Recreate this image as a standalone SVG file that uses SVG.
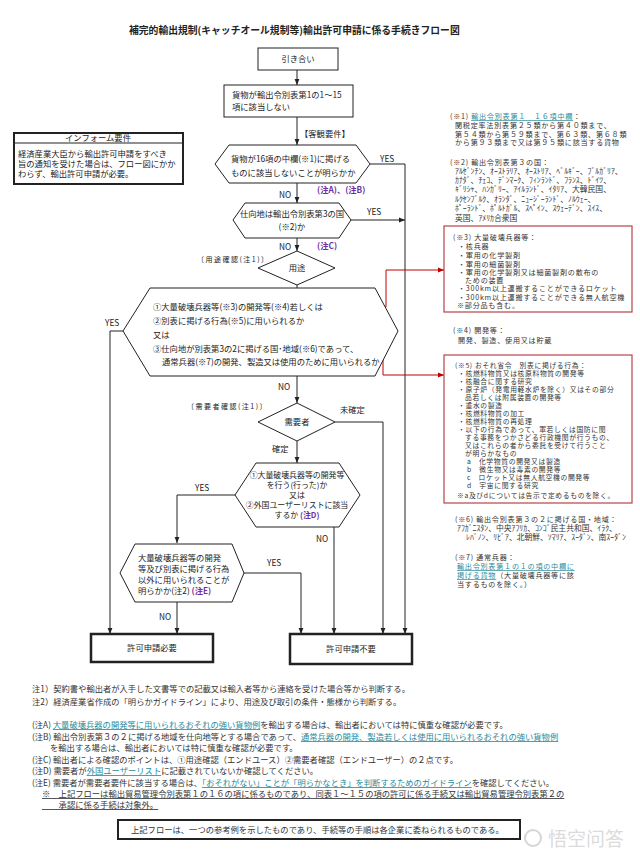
<svg xmlns="http://www.w3.org/2000/svg" width="640" height="853" viewBox="0 0 640 853">
<style>
text { font-family: "Noto Sans CJK JP", "Noto Sans", sans-serif; fill: #222; }
.ti { font-size: 9.8px; font-weight: bold; }
.f { font-size: 8.3px; }
.g { font-size: 7.9px; }
.s { font-size: 7px; letter-spacing: 1.5px; }
.n { font-size: 7.1px; letter-spacing: 0.75px; fill: #333; }
.k { font-size: 7.8px; fill: #333; }
.v { font-size: 6.8px; letter-spacing: 0.65px; fill: #333; }
.m { font-size: 8.3px; fill: #333; }
.pur { fill: #7030a0; font-weight: bold; }
.lk { fill: #2b8a99; text-decoration: underline; }
.ul { text-decoration: underline; }
.c { text-anchor: middle; }
.shape { fill: #fff; stroke: #222; stroke-width: 1; }
.ln { fill: none; stroke: #222; stroke-width: 1; }
.red { fill: none; stroke: #c00000; stroke-width: 1; }
.rbox { fill: #fff; stroke: #b8434a; stroke-width: 1.2; }
.term { fill: #fff; stroke: #222; stroke-width: 2.5; }
</style>
<defs>
<marker id="ah" viewBox="0 0 10 10" refX="10" refY="5" markerWidth="6" markerHeight="6" orient="auto" markerUnits="userSpaceOnUse"><path d="M0,1 L10,5 L0,9 z" fill="#222"/></marker>
<marker id="ahr" viewBox="0 0 10 10" refX="10" refY="5" markerWidth="6" markerHeight="6" orient="auto" markerUnits="userSpaceOnUse"><path d="M0,1 L10,5 L0,9 z" fill="#c00000"/></marker>
</defs>
<rect width="640" height="853" fill="#fff"/>

<text class="ti" x="129" y="34">補完的輸出規制(キャッチオール規制等)輸出許可申請に係る手続きフロー図</text>

<g id="connectors">
  <path class="ln" d="M297,70 V85" marker-end="url(#ah)"/>
  <path class="ln" d="M297,117 V145" marker-end="url(#ah)"/>
  <path class="ln" d="M297,183 V203" marker-end="url(#ah)"/>
  <path class="ln" d="M370,164 H405 V634" marker-end="url(#ah)"/>
  <path class="ln" d="M351,220 H405" marker-end="url(#ah)"/>
  <path class="ln" d="M297,238 V251" marker-end="url(#ah)"/>
  <path class="ln" d="M297,285 V289"/>
  <path class="ln" d="M123,331 H110 V634" marker-end="url(#ah)"/>
  <path class="ln" d="M297,376 V403" marker-end="url(#ah)"/>
  <path class="ln" d="M335,422 H383 V634" marker-end="url(#ah)"/>
  <path class="ln" d="M297,441 V463" marker-end="url(#ah)"/>
  <path class="ln" d="M235,495 H177 V543" marker-end="url(#ah)"/>
  <path class="ln" d="M334,527 V634" marker-end="url(#ah)"/>
  <path class="ln" d="M244,573 H301 V634" marker-end="url(#ah)"/>
  <path class="ln" d="M177,602 V634" marker-end="url(#ah)"/>
  <path class="red" d="M330,307 H386 V270 H444" marker-end="url(#ahr)"/>
  <path class="red" d="M308,321 H383 V375 H444" marker-end="url(#ahr)"/>
  <text class="f" x="300" y="137">【客観要件】</text>
  <text class="f" x="380" y="162">YES</text>
  <text class="f" x="279" y="198">NO</text>
  <text class="f pur" x="317" y="193">(注A)、(注B)</text>
  <text class="f" x="367" y="215">YES</text>
  <text class="f" x="279" y="250">NO</text>
  <text class="f pur" x="317" y="249">(注C)</text>
  <text class="s" x="197" y="262">〔用途確認(注1)〕</text>
  <text class="f" x="105" y="326">YES</text>
  <text class="f" x="278" y="390">NO</text>
  <text class="s" x="187" y="409">〔需要者確認(注1)〕</text>
  <text class="f" x="340" y="413">未確定</text>
  <text class="f" x="272" y="452">確定</text>
  <text class="f" x="195" y="491">YES</text>
  <text class="f" x="316" y="542">NO</text>
  <text class="f" x="267" y="566">YES</text>
  <text class="f" x="159" y="620">NO</text>
</g>

<g id="start">
  <rect class="shape" x="258" y="48" width="80" height="22"/>
  <text class="f c" x="298" y="62">引き合い</text>
</g>

<g id="q0">
  <rect class="shape" x="224" y="85" width="129" height="32"/>
  <text class="f" x="232" y="98">貨物が輸出令別表第1の1～15</text>
  <text class="f" x="232" y="110">項に該当しない</text>
</g>

<g id="q1">
  <polygon class="shape" points="215,164 229,145 356,145 370,164 356,183 229,183"/>
  <text class="f" x="231" y="162">貨物が16項の中欄(※1)に掲げる</text>
  <text class="f" x="231" y="176">ものに該当しないことが明らかか</text>
</g>

<g id="q2">
  <polygon class="shape" points="233,220 245,203 339,203 351,220 339,238 245,238"/>
  <text class="f c" x="292" y="217">仕向地は輸出令別表第3の国</text>
  <text class="f c" x="292" y="230">(※2)か</text>
</g>

<g id="d1">
  <polygon class="shape" points="297,251 335,268 297,285 258,268"/>
  <text class="f c" x="297" y="271">用途</text>
</g>

<g id="q3">
  <polygon class="shape" points="123,331 150,288 375,288 398,331 375,376 150,376"/>
  <text class="f" x="153" y="310">①大量破壊兵器等(※3)の開発等(※4)若しくは</text>
  <text class="f" x="153" y="324">②別表に掲げる行為(※5)に用いられるか</text>
  <text class="f" x="153" y="338">又は</text>
  <text class="f" x="153" y="352">③仕向地が別表第3の2に掲げる国･地域(※6)であって、</text>
  <text class="f" x="162" y="365">通常兵器(※7)の開発、製造又は使用のために用いられるか</text>
</g>

<g id="d2">
  <polygon class="shape" points="297,403 335,422 297,441 258,422"/>
  <text class="f c" x="297" y="425">需要者</text>
</g>

<g id="q4">
  <polygon class="shape" points="235,495 256,463 339,463 360,495 339,527 256,527"/>
  <text class="g c" x="297" y="478">①大量破壊兵器等の開発等</text>
  <text class="g c" x="297" y="488">を行う(行った)か</text>
  <text class="g c" x="297" y="498">又は</text>
  <text class="g c" x="297" y="508">②外国ユーザーリストに該当</text>
  <text class="g c" x="297" y="518">するか <tspan class="pur">(注D)</tspan></text>
</g>

<g id="q5">
  <polygon class="shape" points="120,573 135,544 232,544 244,573 232,602 135,602"/>
  <text class="f" x="138" y="561">大量破壊兵器等の開発</text>
  <text class="f" x="138" y="572">等及び別表に掲げる行為</text>
  <text class="f" x="138" y="583">以外に用いられることが</text>
  <text class="f" x="138" y="594">明らかか(注2) <tspan class="pur">(注E)</tspan></text>
</g>

<g id="need">
  <rect class="term" x="91" y="634" width="122" height="28"/>
  <text class="f c" x="152" y="651">許可申請必要</text>
</g>

<g id="noneed">
  <rect class="term" x="290" y="634" width="122" height="30"/>
  <text class="f c" x="351" y="652">許可申請不要</text>
</g>

<g id="inform">
  <rect x="14" y="133" width="169" height="51" fill="#fff" stroke="#222" stroke-width="2"/>
  <line x1="14" y1="143" x2="183" y2="143" stroke="#222" stroke-width="1"/>
  <text class="f c" x="98" y="141">インフォーム要件</text>
  <text class="f" x="18" y="157" font-size="8.9">経済産業大臣から輸出許可申請をすべき</text>
  <text class="f" x="18" y="167" font-size="8.9">旨の通知を受けた場合は、フロー図にかか</text>
  <text class="f" x="18" y="177" font-size="8.9">わらず、輸出許可申請が必要。</text>
</g>

<g id="note1">
  <text class="n" x="450" y="119">(※1) <tspan class="lk">輸出令別表第１　１６項中欄</tspan>：</text>
  <text class="n" x="455" y="128">関税定率法別表第２５類から第４０類まで、</text>
  <text class="n" x="455" y="136.5">第５４類から第５９類まで、第６３類、第６８類</text>
  <text class="n" x="455" y="145">から第９３類まで又は第９５類に該当する貨物</text>
</g>

<g id="note2">
  <text class="n" x="450" y="165">(※2) 輸出令別表第３の国：</text>
  <text class="k" x="455" y="174">ｱﾙｾﾞﾝﾁﾝ、ｵｰｽﾄﾗﾘｱ、ｵｰｽﾄﾘｱ、ﾍﾞﾙｷﾞｰ、ﾌﾞﾙｶﾞﾘｱ、</text>
  <text class="k" x="455" y="183">ｶﾅﾀﾞ、ﾁｪｺ、ﾃﾞﾝﾏｰｸ、ﾌｨﾝﾗﾝﾄﾞ、ﾌﾗﾝｽ、ﾄﾞｲﾂ、</text>
  <text class="k" x="455" y="192">ｷﾞﾘｼｬ、ﾊﾝｶﾞﾘｰ、ｱｲﾙﾗﾝﾄﾞ、ｲﾀﾘｱ、大韓民国、</text>
  <text class="k" x="455" y="202">ﾙｸｾﾝﾌﾞﾙｸ、ｵﾗﾝﾀﾞ、ﾆｭｰｼﾞｰﾗﾝﾄﾞ、ﾉﾙｳｪｰ、</text>
  <text class="k" x="455" y="211">ﾎﾟｰﾗﾝﾄﾞ、ﾎﾟﾙﾄｶﾞﾙ、ｽﾍﾟｲﾝ、ｽｳｪｰﾃﾞﾝ、ｽｲｽ、</text>
  <text class="k" x="455" y="221">英国、ｱﾒﾘｶ合衆国</text>
</g>

<g id="note3">
  <rect class="rbox" x="444" y="226" width="188" height="86"/>
  <text class="n" x="453" y="240">(※3) 大量破壊兵器等：</text>
  <text class="n" x="458" y="249">・核兵器</text>
  <text class="n" x="458" y="258">・軍用の化学製剤</text>
  <text class="n" x="458" y="267">・軍用の細菌製剤</text>
  <text class="n" x="458" y="275">・軍用の化学製剤又は細菌製剤の散布の</text>
  <text class="n" x="465" y="283">ための装置</text>
  <text class="n" x="458" y="291">・300km以上運搬することができるロケット</text>
  <text class="n" x="458" y="300">・300km以上運搬することができる無人航空機</text>
  <text class="n" x="457" y="308">※部分品も含む。</text>
</g>

<g id="note4">
  <text class="n" x="453" y="333">(※4) 開発等：</text>
  <text class="n" x="458" y="343">開発、製造、使用又は貯蔵</text>
</g>

<g id="note5">
  <rect class="rbox" x="444" y="355" width="188" height="148"/>
  <text class="v" x="455" y="368">(※5) おそれ省令　別表に掲げる行為：</text>
  <text class="v" x="458" y="376">・核燃料物質又は核原料物質の開発等</text>
  <text class="v" x="458" y="384">・核融合に関する研究</text>
  <text class="v" x="458" y="392">・原子炉（発電用軽水炉を除く）又はその部分</text>
  <text class="v" x="465" y="400">品若しくは附属装置の開発等</text>
  <text class="v" x="458" y="408">・重水の製造</text>
  <text class="v" x="458" y="416">・核燃料物質の加工</text>
  <text class="v" x="458" y="424">・核燃料物質の再処理</text>
  <text class="v" x="458" y="432">・以下の行為であって、軍若しくは国防に関</text>
  <text class="v" x="465" y="440">する事務をつかさどる行政機関が行うもの、</text>
  <text class="v" x="465" y="448">又はこれらの者から委託を受けて行うこと</text>
  <text class="v" x="465" y="456">が明らかなもの</text>
  <text class="v" x="467" y="464">a　化学物質の開発又は製造</text>
  <text class="v" x="467" y="472">b　微生物又は毒素の開発等</text>
  <text class="v" x="467" y="480">c　ロケット又は無人航空機の開発等</text>
  <text class="v" x="467" y="488">d　宇宙に関する研究</text>
  <text class="v" x="457" y="498">※a及びdについては告示で定めるものを除く。</text>
</g>

<g id="note6">
  <text class="n" x="455" y="522">(※6) 輸出令別表第３の２に掲げる国・地域：</text>
  <text class="k" x="457" y="531">ｱﾌｶﾞﾆｽﾀﾝ、中央ｱﾌﾘｶ、ｺﾝｺﾞ民主共和国、ｲﾗｸ、</text>
  <text class="k" x="466" y="540">ﾚﾊﾞﾉﾝ、ﾘﾋﾞｱ、北朝鮮、ｿﾏﾘｱ、ｽｰﾀﾞﾝ、南ｽｰﾀﾞﾝ</text>
</g>

<g id="note7">
  <text class="n" x="455" y="560">(※7) 通常兵器：</text>
  <text class="n lk" x="457" y="569">輸出令別表第１の１の項の中欄に</text>
  <text class="n" x="457" y="578"><tspan class="lk">掲げる貨物</tspan>（大量破壊兵器等に該</text>
  <text class="n" x="457" y="587">当するものを除く。）</text>
</g>

<g id="footnotes">
  <text class="m" x="32" y="692">注1）契約書や輸出者が入手した文書等での記載又は輸入者等から連絡を受けた場合等から判断する。</text>
  <text class="m" x="32" y="705">注2）経済産業省作成の「明らかガイドライン」により、用途及び取引の条件・態様から判断する。</text>
  <text class="m" x="32" y="728">(注A) <tspan class="lk">大量破壊兵器の開発等に用いられるおそれの強い貨物例</tspan>を輸出する場合は、輸出者においては特に慎重な確認が必要です。</text>
  <text class="m" x="32" y="740">(注B) 輸出令別表第３の２に掲げる地域を仕向地等とする場合であって、<tspan class="lk">通常兵器の開発、製造若しくは使用に用いられるおそれの強い貨物例</tspan></text>
  <text class="m" x="50" y="751">を輸出する場合は、輸出者においては特に慎重な確認が必要です。</text>
  <text class="m" x="32" y="763">(注C) 輸出者による確認のポイントは、①用途確認（エンドユース）②需要者確認（エンドユーザー）の２点です。</text>
  <text class="m" x="32" y="774">(注D) 需要者が<tspan class="lk">外国ユーザーリスト</tspan>に記載されていないか確認してください。</text>
  <text class="m" x="32" y="786">(注E) 需要者が需要者要件に該当する場合は、<tspan class="lk">「おそれがない」ことが「明らかなとき」を判断するためのガイドライン</tspan>を確認してください。</text>
  <text class="m ul" x="42" y="797">※　上記フローは輸出貿易管理令別表第１の１６の項に係るものであり、同表１～１５の項の許可に係る手続又は輸出貿易管理令別表第２の</text>
  <text class="m ul" x="42" y="808">　　承認に係る手続は対象外。</text>
</g>

<g id="disclaimer">
  <rect x="118" y="820" width="402" height="19" fill="#fff" stroke="#222" stroke-width="2"/>
  <text class="m" x="131" y="833">上記フローは、一つの参考例を示したものであり、手続等の手順は各企業に委ねられるものである。</text>
</g>

<g id="watermark" opacity="0.35">
  <circle cx="533" cy="838" r="8" fill="none" stroke="#888" stroke-width="2"/>
  <text x="548" y="846" font-size="19" style="font-family:'Noto Sans CJK SC',sans-serif;fill:#999">悟空问答</text>
</g>
</svg>
